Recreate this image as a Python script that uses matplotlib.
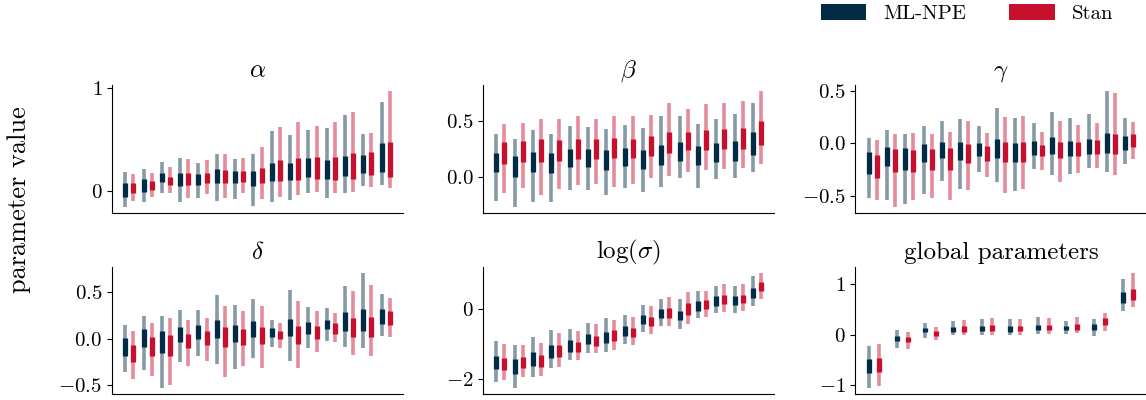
import matplotlib
matplotlib.use("Agg")
import matplotlib.pyplot as plt
from matplotlib.patches import Patch
import numpy as np

plt.rcParams['font.family'] = ['cmr10', 'DejaVu Serif']
plt.rcParams['mathtext.fontset'] = 'cm'
plt.rcParams['axes.formatter.use_mathtext'] = True
plt.rcParams['axes.unicode_minus'] = True

# each row: (lower 95%, lower 50%, upper 50%, upper 95%)
alpha_npe = [(-0.16,-0.06,0.07,0.18),(-0.11,-0.01,0.11,0.21),(-0.02,0.08,0.17,0.28),(-0.11,0.05,0.17,0.32),
             (-0.07,0.06,0.16,0.27),(-0.10,0.07,0.21,0.36),(-0.08,0.07,0.19,0.31),(-0.15,0.05,0.19,0.36),
             (-0.11,0.09,0.27,0.58),(-0.09,0.10,0.27,0.54),(-0.02,0.13,0.32,0.59),(-0.07,0.11,0.30,0.61),
             (-0.02,0.14,0.34,0.74),(0.05,0.17,0.35,0.55),(0.06,0.18,0.46,0.86)]
alpha_stan = [(-0.10,-0.02,0.07,0.16),(-0.06,0.01,0.09,0.17),(-0.02,0.06,0.13,0.23),(-0.07,0.06,0.17,0.31),
              (-0.03,0.07,0.17,0.30),(-0.07,0.07,0.20,0.36),(-0.02,0.08,0.19,0.32),(-0.08,0.07,0.22,0.42),
              (-0.06,0.09,0.30,0.62),(-0.04,0.10,0.32,0.67),(-0.01,0.11,0.33,0.63),(-0.02,0.10,0.33,0.67),
              (-0.01,0.11,0.37,0.76),(0.04,0.15,0.38,0.56),(0.03,0.13,0.47,0.97)]

beta_npe = [(-0.215,0.04,0.21,0.385),(-0.275,0.0,0.185,0.335),(-0.23,0.04,0.22,0.42),(-0.23,0.03,0.21,0.38),
            (-0.12,0.09,0.25,0.45),(-0.125,0.09,0.245,0.445),(-0.17,0.06,0.235,0.43),(-0.10,0.095,0.26,0.465),
            (-0.14,0.07,0.24,0.435),(-0.095,0.10,0.28,0.54),(-0.015,0.14,0.31,0.54),(-0.10,0.10,0.27,0.475),
            (-0.02,0.13,0.30,0.52),(-0.01,0.14,0.32,0.56),(0.04,0.19,0.40,0.665)]
beta_stan = [(-0.145,0.115,0.31,0.475),(-0.10,0.13,0.32,0.48),(-0.17,0.13,0.34,0.52),(-0.11,0.14,0.33,0.52),
             (-0.08,0.155,0.34,0.54),(-0.07,0.16,0.34,0.52),(-0.09,0.165,0.35,0.54),(-0.07,0.165,0.34,0.54),
             (-0.01,0.185,0.36,0.55),(0.005,0.215,0.40,0.66),(0.04,0.235,0.40,0.61),(0.06,0.235,0.42,0.65),
             (0.07,0.245,0.43,0.665),(0.075,0.245,0.435,0.68),(0.11,0.28,0.50,0.77)]

gamma_npe = [(-0.52,-0.29,-0.08,0.05),(-0.54,-0.22,-0.035,0.13),(-0.58,-0.255,-0.05,0.09),(-0.48,-0.18,-0.01,0.16),
             (-0.36,-0.145,0.015,0.215),(-0.435,-0.16,0.015,0.235),(-0.275,-0.125,0.005,0.165),(-0.37,-0.14,0.04,0.34),
             (-0.455,-0.18,0.0,0.245),(-0.25,-0.115,0.02,0.195),(-0.30,-0.105,0.06,0.30),(-0.295,-0.125,0.025,0.24),
             (-0.24,-0.10,0.045,0.275),(-0.275,-0.095,0.10,0.50),(-0.195,-0.06,0.07,0.245)]
gamma_stan = [(-0.54,-0.33,-0.11,0.03),(-0.61,-0.27,-0.055,0.09),(-0.545,-0.275,-0.06,0.10),(-0.525,-0.255,-0.055,0.09),
              (-0.54,-0.255,-0.05,0.11),(-0.45,-0.19,-0.01,0.215),(-0.32,-0.165,-0.03,0.10),(-0.475,-0.18,0.01,0.255),
              (-0.44,-0.18,0.01,0.26),(-0.255,-0.125,-0.015,0.11),(-0.37,-0.145,0.015,0.21),(-0.285,-0.125,0.01,0.175),
              (-0.24,-0.105,0.03,0.19),(-0.305,-0.105,0.085,0.475),(-0.15,-0.035,0.085,0.205)]

delta_npe = [(-0.355,-0.185,0.01,0.15),(-0.335,-0.09,0.10,0.24),(-0.53,-0.155,0.085,0.245),(-0.25,-0.035,0.13,0.305),
             (-0.185,-0.005,0.15,0.31),(-0.27,0.005,0.205,0.465),(-0.32,-0.035,0.145,0.355),(-0.205,0.02,0.19,0.425),
             (-0.085,0.02,0.115,0.205),(-0.24,0.03,0.215,0.525),(-0.105,0.045,0.18,0.34),(-0.02,0.10,0.205,0.33),
             (-0.085,0.08,0.29,0.56),(-0.105,0.08,0.32,0.705),(0.03,0.155,0.32,0.475)]
delta_stan = [(-0.43,-0.25,-0.07,0.085),(-0.40,-0.18,0.02,0.165),(-0.50,-0.185,0.04,0.22),(-0.29,-0.105,0.055,0.20),
              (-0.24,-0.07,0.08,0.225),(-0.405,-0.085,0.12,0.35),(-0.29,-0.07,0.10,0.30),(-0.315,-0.055,0.13,0.35),
              (-0.105,0.0,0.085,0.165),(-0.31,-0.055,0.14,0.405),(-0.14,0.0,0.135,0.30),(-0.04,0.055,0.165,0.28),
              (-0.17,0.02,0.22,0.51),(-0.185,0.02,0.235,0.57),(0.015,0.15,0.30,0.435)]

logsigma_npe = [(-2.06,-1.70,-1.32,-0.90),(-2.25,-1.85,-1.43,-1.02),(-1.94,-1.62,-1.23,-0.80),(-1.68,-1.38,-1.02,-0.59),
                (-1.45,-1.21,-0.88,-0.55),(-1.25,-1.00,-0.71,-0.38),(-1.23,-0.96,-0.64,-0.26),(-1.00,-0.75,-0.47,-0.15),
                (-0.66,-0.43,-0.17,0.13),(-0.49,-0.26,0.0,0.28),(-0.57,-0.32,-0.04,0.28),(-0.26,-0.04,0.23,0.53),
                (-0.11,0.09,0.38,0.66),(-0.11,0.11,0.38,0.66),(0.09,0.33,0.62,0.94)]
logsigma_stan = [(-2.01,-1.74,-1.40,-0.99),(-1.94,-1.68,-1.36,-1.01),(-1.91,-1.64,-1.30,-0.95),(-1.64,-1.36,-1.02,-0.69),
                 (-1.45,-1.23,-0.94,-0.62),(-1.26,-1.04,-0.75,-0.43),(-1.17,-0.91,-0.58,-0.30),(-1.02,-0.79,-0.53,-0.23),
                 (-0.71,-0.47,-0.21,0.08),(-0.49,-0.25,0.04,0.34),(-0.43,-0.15,0.17,0.49),(-0.23,0.0,0.26,0.53),
                 (-0.08,0.15,0.42,0.71),(-0.05,0.17,0.42,0.71),(0.30,0.51,0.77,1.04)]

global_npe = [(-1.06,-0.76,-0.48,-0.22),(-0.26,-0.125,-0.02,0.10),(-0.06,0.05,0.14,0.24),(-0.01,0.06,0.16,0.27),
              (-0.01,0.07,0.18,0.32),(-0.01,0.06,0.18,0.32),(0.01,0.09,0.20,0.35),(0.02,0.10,0.18,0.28),
              (-0.02,0.10,0.21,0.32),(0.48,0.63,0.84,1.11)]
global_stan = [(-1.02,-0.73,-0.47,-0.19),(-0.28,-0.15,-0.05,0.05),(-0.11,-0.02,0.07,0.16),(-0.01,0.06,0.18,0.30),
               (-0.01,0.07,0.19,0.34),(-0.01,0.07,0.18,0.32),(0.02,0.10,0.20,0.34),(0.03,0.10,0.22,0.36),
               (0.07,0.20,0.34,0.44),(0.55,0.69,0.90,1.23)]

titles = [r'$\alpha$', r'$\beta$', r'$\gamma$', r'$\delta$', r'$\log(\sigma)$', 'global parameters']
panels = [(alpha_npe, alpha_stan), (beta_npe, beta_stan), (gamma_npe, gamma_stan),
          (delta_npe, delta_stan), (logsigma_npe, logsigma_stan), (global_npe, global_stan)]
yticks = [[0, 1], [0.0, 0.5], [-0.5, 0.0, 0.5], [-0.5, 0.0, 0.5], [-2, 0], [-1, 0, 1]]
method_labels = ['ML-NPE', 'Stan']

C_NPE = '#022c45'
C_STAN = '#c8102e'
colors = [C_NPE, C_STAN]

fig = plt.figure(figsize=(11.46, 4.0), dpi=100)
W = 0.254
lefts = [0.0977, 0.4215, 0.7465]
rects = [(lefts[0], 0.4675, W, 0.32), (lefts[1], 0.4675, W, 0.32), (lefts[2], 0.4675, W, 0.32),
         (lefts[0], 0.015, W, 0.3175), (lefts[1], 0.015, W, 0.3175), (lefts[2], 0.015, W, 0.3175)]

for k, (rect, (npe, stan)) in enumerate(zip(rects, panels)):
    ax = fig.add_axes(rect)
    n = len(npe)
    off = 0.22 if n > 10 else 0.19
    x = np.arange(n)
    for j, data in enumerate([npe, stan]):
        d = np.array(data)
        xs = x + (-off if j == 0 else off)
        ax.vlines(xs, d[:, 0], d[:, 3], color=colors[j], alpha=0.48, linewidth=2.6, capstyle='butt')
        ax.vlines(xs, d[:, 1], d[:, 2], color=colors[j], linewidth=3.8, capstyle='butt')
    ax.set_xticks([])
    ax.set_yticks(yticks[k])
    ax.tick_params(axis='y', labelsize=15, length=3.5, width=0.8)
    ax.spines['top'].set_visible(False)
    ax.spines['right'].set_visible(False)
    ax.set_title(titles[k], fontsize=18, pad=6)

fig.text(0.017, 0.5, 'parameter value', rotation=90, va='center', ha='center', fontsize=19)

handles = [Patch(facecolor=c, edgecolor='none', label=l) for c, l in zip(colors, method_labels)]
fig.legend(handles=handles, loc='upper right', bbox_to_anchor=(1113 / 1146, 1 - 4 / 400), ncol=2, frameon=False,
           borderaxespad=0, borderpad=0,
           fontsize=15, handlelength=2.2, handleheight=0.82, handletextpad=0.8, columnspacing=2.07)

fig.savefig('out.png', dpi=100)
